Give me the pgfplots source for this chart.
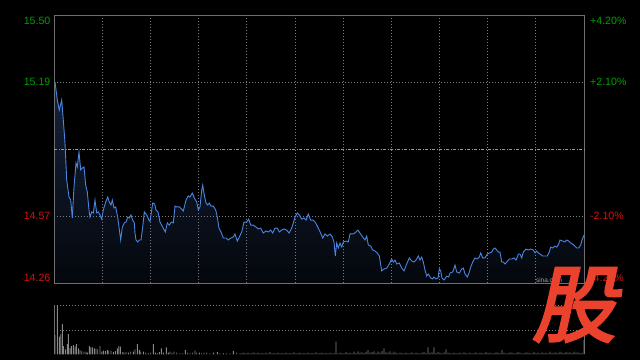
\documentclass[border=0pt]{standalone}
\usepackage{pgfplots}
\usepackage{pgfplotstable}
\pgfplotsset{compat=1.18}
\usepackage{fontspec}
\setmainfont{Liberation Sans}
\newfontfamily\cjk{Noto Sans CJK SC}[FakeBold=3,FakeSlant=0.22]
\definecolor{framec}{RGB}{110,110,110}
\definecolor{gridc}{RGB}{125,125,125}
\definecolor{pline}{RGB}{74,132,225}
\definecolor{upg}{RGB}{0,160,0}
\definecolor{dnr}{RGB}{215,15,15}
\definecolor{volc}{RGB}{135,135,135}
\definecolor{logo}{RGB}{234,66,44}
\definecolor{fillt}{RGB}{22,34,58}
\definecolor{fillb}{RGB}{4,7,12}

\pgfplotstableread{
x p
1 15.191
3.3 15.107
5.3 15.060
7.7 15.107
9.3 15.014
11 14.908
12.7 14.737
15 14.658
16.7 14.644
18.3 14.561
20 14.704
22 14.815
23.3 14.797
25 14.866
26.7 14.783
28.3 14.792
30 14.797
31.7 14.713
33.3 14.681
35 14.598
36 14.565
37.7 14.589
39.3 14.584
41 14.644
42.7 14.584
44.3 14.589
46 14.575
47.7 14.556
49.3 14.598
51.7 14.635
53.7 14.658
55.3 14.635
57 14.621
58.3 14.644
60 14.607
61.7 14.612
63.7 14.565
65 14.519
66.7 14.459
68.3 14.519
70.3 14.538
72 14.542
73.7 14.565
75.3 14.561
77 14.575
78.7 14.551
80.3 14.538
81 14.491
82 14.459
83.7 14.450
85.3 14.459
87 14.459
88.7 14.519
90.3 14.589
92.7 14.575
95 14.551
96 14.545
98.7 14.630
100.7 14.626
102 14.598
104 14.589
106 14.542
108.7 14.519
111.3 14.496
113.3 14.538
115.3 14.528
117.3 14.542
119.3 14.538
121 14.616
122.7 14.612
125.3 14.612
127.7 14.602
129.3 14.593
132 14.644
134.3 14.663
136 14.658
138.3 14.676
140.3 14.653
142.7 14.635
144.3 14.598
146 14.612
147.7 14.690
148.7 14.713
150.3 14.667
152 14.630
153.7 14.621
155.3 14.630
157 14.616
159.3 14.616
161.7 14.598
163.3 14.565
165 14.514
167 14.496
169.3 14.468
172 14.468
174.3 14.459
176.7 14.468
179.3 14.473
181 14.487
183.3 14.454
185.3 14.473
187.7 14.496
190 14.542
192.7 14.542
194.7 14.556
196.7 14.528
199.3 14.528
202 14.519
204.3 14.510
206.7 14.514
209.3 14.491
212 14.501
214.3 14.496
216.7 14.505
218.7 14.491
221 14.514
223.3 14.514
225.3 14.496
227.7 14.505
230 14.510
232.7 14.505
235 14.491
237.7 14.514
239.3 14.538
241 14.565
243.3 14.584
245.3 14.575
247.7 14.556
250 14.561
252 14.551
254.3 14.579
256.7 14.551
259.3 14.551
261.7 14.538
264.3 14.514
266.7 14.491
268.7 14.468
271 14.487
273.3 14.477
276 14.487
278.3 14.473
280 14.450
281.3 14.385
282.7 14.445
284.3 14.422
286 14.445
287.7 14.427
289.3 14.450
292 14.454
294.3 14.450
296 14.487
299.3 14.487
302 14.496
304 14.505
306 14.491
308.7 14.473
311 14.459
312.7 14.477
314.3 14.436
316.7 14.431
318.7 14.413
321 14.408
323.3 14.399
325.3 14.385
327.7 14.316
330 14.325
332.7 14.329
335.3 14.348
337.7 14.371
339.3 14.357
341 14.366
342.7 14.348
345.3 14.353
347.7 14.329
350 14.316
352.7 14.348
355.3 14.376
357.7 14.362
360 14.357
362 14.366
364.3 14.385
366 14.366
367.7 14.380
369.3 14.357
371 14.320
372.7 14.292
374.3 14.302
376.7 14.283
378.7 14.279
380 14.288
382 14.279
384 14.283
385.3 14.325
386.7 14.316
388 14.283
390 14.274
392.7 14.292
394.7 14.288
396 14.306
398.7 14.311
401 14.343
402.7 14.311
405.3 14.306
407.7 14.325
409.3 14.329
411 14.302
413.3 14.288
415 14.306
416.7 14.334
418.7 14.357
421 14.376
423.3 14.371
425.3 14.380
426.7 14.399
428.7 14.376
431 14.376
433.3 14.394
435.3 14.399
437.7 14.403
439.3 14.417
441 14.422
442.7 14.413
444.3 14.403
446 14.403
447.7 14.357
449.3 14.357
451 14.348
452.7 14.357
455.3 14.371
457.7 14.371
460 14.376
462 14.366
463.3 14.380
464.3 14.394
466 14.394
467.7 14.376
469.3 14.403
472 14.417
474.3 14.413
476.7 14.417
479.3 14.413
481 14.399
482.7 14.408
484.3 14.399
486 14.394
488.7 14.385
491 14.385
493.3 14.385
495.3 14.403
496.7 14.426
498.7 14.422
501 14.431
502.7 14.426
504.3 14.436
506 14.459
508.7 14.454
511 14.450
512.7 14.459
514.7 14.454
516.7 14.445
518.7 14.440
520.7 14.431
522.7 14.422
524.7 14.422
526.7 14.436
528 14.459
529.3 14.473
530 14.482
}\pricedata

\pgfplotstableread{
x v
1 19.3
3.3 49.3
5.3 17.6
6.7 20.3
8.3 30.3
9.3 8.3
11.3 5
13.3 10.3
14.3 20.3
16 6.3
17.3 8.3
19.3 9.3
21 7.6
22.3 10.3
24.3 6
26 4.3
27.7 3.3
30 2.6
32 2.6
33.3 1.6
35.3 8.3
36.7 7
38.3 7
40.3 6
42 5.6
43.7 5
46 8.3
47.7 2.6
49.3 3.6
51.3 3.3
53.3 4.3
54.7 3.6
57 3.6
59.3 2.3
61.3 3.3
63.3 6
64.7 8.3
66.3 7.6
68.7 2.3
70 1.6
72 2.3
74.3 1.6
76.7 2.6
79.3 2.6
81 5
83.3 10.3
85.3 4.3
86.7 2.6
89.3 2.6
91.7 1.6
94.3 1
96.7 1.6
99.3 10.3
101.3 1.6
103.3 1
105.3 2.3
107.3 6
109.3 1.6
112.3 7
114.3 1.6
116 2.6
118 1.6
120 2.6
122.7 1.6
126 1
128.7 1
131.3 4.3
133.7 1.6
136 1
138.7 1.6
141 3.6
142.7 1.6
145.3 1.6
147.7 1
150 1.6
152.7 1.6
156 1
159.3 1.6
163.3 2.3
166 1
169.3 1
172.7 1
176 1
179.3 3.3
182.7 1.6
186 1
188 1.3
190 1.6
192 1
194 1.6
196 1
198 1.3
200 2
202 1
204 1.6
206 1
208 1.3
210 1
212 1.6
214 1
216 2.3
218 1
220 1.3
222 1
224 1.6
226 1
228 1.3
230 1
232 1.6
234 1
236 1.3
238 1
240 2
242 1
244 1.3
246 1.6
248 1
250 1.3
252 1
254 1.6
256 1
258 1.3
260 1
262 2
264 1
266 1.3
268 1.6
270 1
272 1.3
274 1
276 1.6
278 1
280 1.3
282 12.6
284 1
286 1.6
288 1.3
290 1
292 2.3
294 1.3
296 1.6
298 1
300 2.6
302 1.3
304 3
306 1.6
308 2
310 1.3
312 2.6
314 4.3
316 1.6
318 2.3
320 3
322 1.3
324 2.6
326 1.6
328 3.3
330 6
332 2
334 1.6
336 3
338 1.3
340 2.6
342 1.6
344 1
346 1.6
348 1.3
350 1
352 1.6
354 1
356 1.3
358 2
360 1
362 1.6
364 1.3
366 1
368 1.6
370 2.3
372 1.3
374 7
376 1.6
378 2
380 7
382 1.3
384 2.3
386 1.6
388 1
390 2
392 5
394 1.6
396 1.3
398 1
400 1.6
402 1
404 1.3
406 1.6
408 1
410 2
412 1.3
414 1
416 1.6
418 1
420 1.3
422 2
424 1
426 1.6
428 1.3
430 1
432 2.3
434 1.3
436 1.6
438 1
440 1.3
442 2
444 1.6
446 1.3
448 4.3
450 1.6
452 1
454 1.3
456 2
458 1.6
460 1
462 1.3
464 2.3
466 1.6
468 1
470 1.3
472 2
474 1.6
476 1.3
478 1
480 2.3
482 1.3
484 1.6
486 1
488 2
490 1.3
492 1.6
494 1
496 2.6
498 1.3
500 1.6
502 2
504 1.3
506 2.6
508 1.6
510 1.3
512 2.3
514 1.6
516 2
518 1.3
520 2.6
522 1.6
524 2
526 1.3
528 1.6
530 14.3
}\voldata

\begin{document}
\begin{tikzpicture}
\fill[black] (0pt,0pt) rectangle (640pt,360pt);
% area under the price line
\begin{axis}[
  at={(54pt,77pt)}, anchor=south west, scale only axis,
  width=530pt, height=268pt,
  xmin=0, xmax=530, ymin=14.26, ymax=15.50,
  hide axis,
]
\addplot[draw=none, top color=fillt, bottom color=fillb, forget plot] table[x=x,y=p] {\pricedata} -- (axis cs:530,14.26) -- (axis cs:1,14.26) -- cycle;
\end{axis}
% grid, frame, price line and labels
\begin{axis}[
  at={(54pt,77pt)}, anchor=south west, scale only axis,
  width=530pt, height=268pt,
  xmin=0, xmax=530, ymin=14.26, ymax=15.50,
  axis line style={framec, line width=0.9pt},
  xtick={48.18,96.36,144.55,192.73,240.91,289.09,337.27,385.45,433.64,481.82},
  ytick={14.57,15.19},
  xticklabels={}, yticklabels={},
  major tick length=0pt,
  grid=major,
  major grid style={gridc, line width=0.7pt, dash pattern=on 1pt off 2pt},
  extra y ticks={14.88}, extra y tick labels={},
  extra y tick style={grid=major, major grid style={gray!80, line width=0.7pt, dash pattern=on 3pt off 1.5pt on 1pt off 1.5pt}},
  clip mode=individual,
]
\addplot[pline, line width=0.9pt] table[x=x,y=p] {\pricedata};
\begin{scope}[every node/.style={font=\fontsize{10.6}{12}\selectfont, inner sep=0pt}]
\node[anchor=east, text=upg] at ([xshift=-3.5pt,yshift=-5.5pt]axis cs:0,15.50) {15.50};
\node[anchor=east, text=upg] at ([xshift=-3.5pt]axis cs:0,15.19) {15.19};
\node[anchor=east, text=dnr] at ([xshift=-3.5pt]axis cs:0,14.57) {14.57};
\node[anchor=east, text=dnr] at ([xshift=-3.5pt,yshift=5pt]axis cs:0,14.26) {14.26};
\node[anchor=west, text=upg] at ([xshift=6pt,yshift=-5.5pt]axis cs:530,15.50) {+4.20\%};
\node[anchor=west, text=upg] at ([xshift=6pt]axis cs:530,15.19) {+2.10\%};
\node[anchor=west, text=dnr] at ([xshift=6pt]axis cs:530,14.57) {-2.10\%};
\node[anchor=west, text=dnr] at ([xshift=6pt,yshift=5pt]axis cs:530,14.26) {-4.20\%};
\end{scope}
\end{axis}
% volume panel
\begin{axis}[
  at={(54pt,5.7pt)}, anchor=south west, scale only axis,
  width=530pt, height=49.3pt,
  xmin=0, xmax=530, ymin=0, ymax=49.3,
  axis line style={draw=none},
  xtick={0,530}, ytick={24.3,49.3},
  xticklabels={}, yticklabels={},
  major tick length=0pt,
  xmajorgrids, ymajorgrids,
  x grid style={framec, line width=0.9pt},
  y grid style={gridc, line width=0.7pt, dash pattern=on 1pt off 2pt},
  ybar, bar width=0.9pt,
]
\addplot[fill=volc, draw=none] table[x=x,y=v] {\voldata};
\end{axis}
\node[text=gray!75, font=\fontsize{6.5}{7}\selectfont, inner sep=0pt] at (549pt,80pt) {sina.com};
\node[text=logo, font=\cjk\fontsize{84}{84}\selectfont, inner sep=0pt] at (574pt,55pt) {股};
\pgfresetboundingbox
\path[use as bounding box] (0pt,0pt) rectangle (640pt,360pt);
\end{tikzpicture}
\end{document}
